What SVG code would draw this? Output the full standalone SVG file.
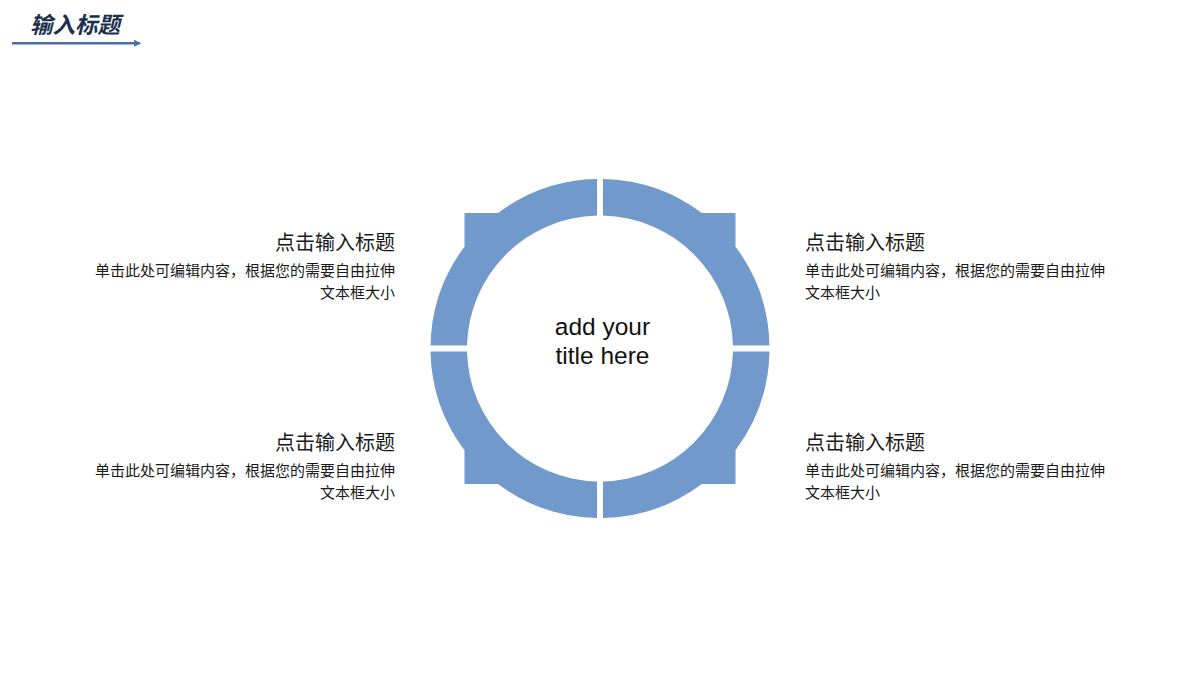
<svg xmlns="http://www.w3.org/2000/svg" xmlns:xlink="http://www.w3.org/1999/xlink" width="1200" height="675" viewBox="0 0 1200 675">
<style>
.seg{fill:#7199CC;}
.cn{font-family:"Noto Sans CJK SC","Noto Sans",sans-serif;fill:#1a1a1a;}
.h{font-size:20px;}
.b{font-size:15px;}
.ctr{font-family:"Liberation Sans",Arial,sans-serif;font-size:24.5px;fill:#111;text-anchor:middle;}
</style>
<defs>
<path id="q" d="M603,215.53 L603,179.03 A169.5,169.5 0 0 1 701.83,213 L735.5,213 L735.5,246.67 A169.5,169.5 0 0 1 769.47,345.5 L732.97,345.5 A133,133 0 0 0 603,215.53 Z"/>
<marker id="ah" markerWidth="8" markerHeight="8" refX="6" refY="4" orient="auto" markerUnits="userSpaceOnUse">
<path d="M0,0.5 L7,4 L0,7.5 Z" fill="#4E6F9F"/>
</marker>
</defs>
<rect width="1200" height="675" fill="#fff"/>
<g id="header">
<text x="30" y="33" class="cn" style="font-size:22.5px;font-weight:bold;font-style:italic;fill:#1C2F4D">输入标题</text>
<line x1="12" y1="43.3" x2="140" y2="43.3" stroke="#4E6F9F" stroke-width="2.4" marker-end="url(#ah)"/>
</g>
<g id="ring">
<use xlink:href="#q" class="seg"/>
<use xlink:href="#q" class="seg" transform="rotate(90 600 348.5)"/>
<use xlink:href="#q" class="seg" transform="rotate(180 600 348.5)"/>
<use xlink:href="#q" class="seg" transform="rotate(270 600 348.5)"/>
</g>
<g id="center">
<text x="602.5" y="335" class="ctr">add your</text>
<text x="602.5" y="364" class="ctr">title here</text>
</g>
<g id="tl" class="cn" text-anchor="end">
<text x="395" y="250" class="cn h">点击输入标题</text>
<text x="395" y="276" class="cn b">单击此处可编辑内容，根据您的需要自由拉伸</text>
<text x="395" y="298" class="cn b">文本框大小</text>
</g>
<g id="bl" class="cn" text-anchor="end">
<text x="395" y="450" class="cn h">点击输入标题</text>
<text x="395" y="476" class="cn b">单击此处可编辑内容，根据您的需要自由拉伸</text>
<text x="395" y="498" class="cn b">文本框大小</text>
</g>
<g id="tr" class="cn">
<text x="805" y="250" class="cn h">点击输入标题</text>
<text x="805" y="276" class="cn b">单击此处可编辑内容，根据您的需要自由拉伸</text>
<text x="805" y="298" class="cn b">文本框大小</text>
</g>
<g id="br" class="cn">
<text x="805" y="450" class="cn h">点击输入标题</text>
<text x="805" y="476" class="cn b">单击此处可编辑内容，根据您的需要自由拉伸</text>
<text x="805" y="498" class="cn b">文本框大小</text>
</g>
</svg>
